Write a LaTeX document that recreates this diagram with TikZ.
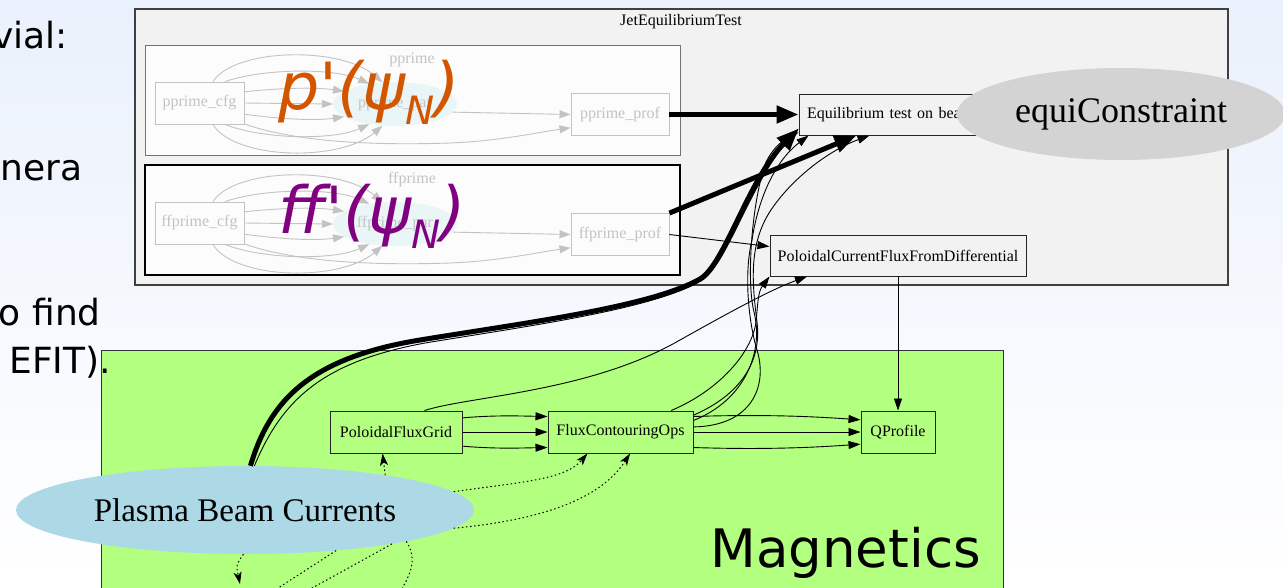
\documentclass[tikz,border=0pt]{standalone}
\usepackage{fontspec}
\setmainfont{Liberation Serif}
\newfontfamily\slidefont{DejaVu Sans}
\newfontfamily\ovlfont{DejaVu Sans}[Ligatures=TeXOff]
\usetikzlibrary{arrows.meta,shapes.geometric,calc}
\newcommand{\fsz}[1]{\fontsize{#1}{#1}\selectfont}
\definecolor{bgtop}{RGB}{234,241,252}
\definecolor{bgmid}{RGB}{246,249,254}
\definecolor{jetfill}{RGB}{242,242,242}
\definecolor{subfill}{RGB}{252,252,252}
\definecolor{ghost}{RGB}{195,195,195}
\definecolor{parfill}{RGB}{234,245,248}
\definecolor{magfill}{RGB}{179,255,128}
\definecolor{pbcfill}{RGB}{173,216,230}
\definecolor{eqcfill}{RGB}{211,211,211}
\definecolor{porange}{RGB}{212,85,0}
\definecolor{fpurple}{RGB}{128,0,128}
\tikzset{
  ghostbox/.style={rectangle, draw=ghost, fill=subfill, text=ghost, inner sep=0pt, line width=0.9pt, font=\fsz{16}},
  ghostlabel/.style={text=ghost, inner sep=0pt, font=\fsz{16}},
  parell/.style={ellipse, fill=parfill, text=ghost, inner sep=0pt, minimum width=124pt, minimum height=44pt, font=\fsz{16}},
  ghostedge/.style={draw=ghost, line width=0.9pt, -{Triangle[length=11pt,width=8pt]}},
  gvbox/.style={rectangle, draw=black!85, inner sep=0pt, line width=1pt, font=\fsz{16}},
  tedge/.style={draw=black, line width=0.9pt, -{Triangle[length=12pt,width=8pt]}},
  kedge/.style={draw=black, line width=5pt, -{Triangle[length=22pt,width=17pt]}},
  dedge/.style={draw=black, line width=1pt, dash pattern=on 1.5pt off 2.6pt, -{Stealth[length=12pt,width=8pt,inset=3pt]}},
  dline/.style={draw=black, line width=1pt, dash pattern=on 1.5pt off 2.6pt},
  slide/.style={anchor=base east, inner sep=0pt, font=\slidefont\fsz{36}},
  formula/.style={anchor=base west, inner sep=0pt, font=\ovlfont\itshape\fsz{65}}
}
\begin{document}
\begin{tikzpicture}[x=1pt,y=-1pt]
\useasboundingbox (0,0) rectangle (1283,587);
\clip (0,0) rectangle (1283,587);
\shade[top color=bgtop, middle color=bgmid, bottom color=white] (0,0) rectangle (1283,587);

% ---------- JetEquilibriumTest cluster
\draw[draw=black!75, fill=jetfill, line width=1.2pt] (135,9) rectangle (1228,285);
\node[inner sep=0pt, font=\fsz{16}] (jetlabel) at (681,22) {JetEquilibriumTest};
\draw[draw=black!55, fill=subfill, line width=1pt] (145,45) rectangle (680,155);
\draw[draw=black, fill=subfill, line width=1.3pt] (145,165) rectangle (680,275);

\foreach \pre/\lab/\dy in {p/pprime/0, f/ffprime/120} {
  \node[ghostlabel] (\pre-lab) at (412,60+\dy) {\lab};
  \node[ghostbox, minimum width=89pt, minimum height=42pt] (\pre-cfg) at (199.5,103+\dy) {\lab\_cfg};
  \node[parell] (\pre-par) at (395,104+\dy) {\lab\_par};
  \node[ghostbox, minimum width=98pt, minimum height=42pt] (\pre-prof) at (620,114.5+\dy) {\lab\_prof};
  \draw[ghostedge] (\pre-cfg.58) .. controls (235,{48+\dy}) and (340,{46+\dy}) .. (\pre-par.120);
  \draw[ghostedge] (\pre-cfg.40) .. controls (265,{68+\dy}) and (335,{68+\dy}) .. (\pre-par.142);
  \draw[ghostedge] (\pre-cfg.14) .. controls (280,{88+\dy}) and (315,{87+\dy}) .. (\pre-par.166);
  \draw[ghostedge] (\pre-cfg.east) -- (\pre-par.west);
  \draw[ghostedge] (\pre-cfg.-14) .. controls (280,{119+\dy}) and (315,{121+\dy}) .. (\pre-par.-166);
  \draw[ghostedge] (\pre-cfg.-40) .. controls (265,{140+\dy}) and (335,{140+\dy}) .. (\pre-par.-142);
  \draw[ghostedge] (\pre-cfg.-58) .. controls (235,{160+\dy}) and (340,{162+\dy}) .. (\pre-par.-120);
  \draw[ghostedge] (\pre-cfg.-25) .. controls (290,{140+\dy}) and (360,{146+\dy}) .. (450,{143+\dy}) .. controls (500,{141+\dy}) and (540,{132+\dy}) .. (\pre-prof.-165);
  \draw[ghostedge] (\pre-par.-8) -- (\pre-prof.west);
}

\node[gvbox, fill=jetfill, minimum width=201pt, minimum height=41pt, text width=185pt, inner xsep=8pt, align=left] (equil) at (899.5,114.5) {Equilibrium test on bea};
\node[gvbox, fill=jetfill, minimum width=256pt, minimum height=41pt] (pcf) at (898,255.5) {PoloidalCurrentFluxFromDifferential};

% ---------- Magnetics cluster
\draw[draw=black!80, fill=magfill, line width=1pt] (101,350) rectangle (1003,600);
\node[gvbox, fill=magfill, minimum width=132pt, minimum height=42pt] (pfg) at (396,432) {PoloidalFluxGrid};
\node[gvbox, fill=magfill, minimum width=145pt, minimum height=42pt] (fco) at (620.5,432) {FluxContouringOps};
\node[gvbox, fill=magfill, minimum width=74pt, minimum height=42pt] (qp) at (898,432) {QProfile};
\node[anchor=base east, inner sep=0pt, font=\slidefont\fsz{53}] (maglab) at (981,567) {Magnetics};

% ---------- edges
\draw[tedge] (pfg.12) .. controls (495,415) and (520,416) .. (fco.168);
\draw[tedge] (pfg.east) -- (fco.west);
\draw[tedge] (pfg.-12) .. controls (495,449) and (520,448) .. (fco.-168);
\draw[tedge] (fco.12) .. controls (770,414) and (820,417) .. (qp.162);
\draw[tedge] (fco.east) -- (qp.west);
\draw[tedge] (fco.-12) .. controls (770,450) and (820,447) .. (qp.-162);
\draw[tedge] (pcf.south) -- (qp.north);
\draw[tedge] (f-prof.east) -- (pcf.176);
\draw[tedge] (pfg.37) .. controls (470,396) and (590,392) .. (680,340) .. controls (730,312) and (770,290) .. (pcf.-167);
% weave from FluxContouringOps
\draw[tedge] (fco.23) .. controls (720,390) and (752,352) .. (756,322) .. controls (758,302) and (758,292) .. (pcf.south west);
\draw[tedge] (fco.13) .. controls (740,395) and (762,362) .. (757,322) .. controls (752,282) and (748,242) .. (773,207) .. controls (795,176) and (830,150) .. (equil.-145);
\draw[tedge] (fco.9) .. controls (745,400) and (764,352) .. (754,312) .. controls (746,280) and (752,200) .. (766,162) .. controls (772,150) and (780,142) .. (equil.-170);
\draw[tedge] (fco.4) .. controls (752,426) and (768,386) .. (757,350) .. controls (748,320) and (744,272) .. (752,240) .. controls (758,200) and (774,162) .. (equil.-167);

% plasma beam currents
\node[ellipse, fill=pbcfill, minimum width=458pt, minimum height=88pt, inner sep=0pt, font=\fsz{33}] (pbc) at (245,510) {Plasma Beam Currents};
\draw[tedge] (pbc.78) .. controls (282,400) and (322,362) .. (425,343) .. controls (535,325) and (652,309) .. (701,281) .. controls (727,266) and (750,182) .. (equil.-172);
\draw[kedge] (pbc.83) .. controls (270,400) and (310,358) .. (420,340) .. controls (530,322) and (650,307) .. (700,279) .. controls (725,264) and (748,180) .. (equil.-172);
\draw[kedge] (p-prof.east) -- (equil.west);
\draw[kedge] (f-prof.north east) -- (equil.-154);

\draw[dedge] (pbc.14) -- (pfg.-122);
\draw[dedge] (pbc.5) .. controls (520,482) and (565,480) .. (fco.-147);
\draw[dedge] (pbc.-5) .. controls (540,520) and (600,500) .. (fco.-66);
\coordinate (d4) at (240,584);
\coordinate (d5) at (272,592);
\coordinate (d6) at (305,592);
\coordinate (d7) at (400,592);
\draw[dedge] (pbc.-92) .. controls (236,565) .. (d4);
\draw[dline] (pbc.-24) -- (d5);
\draw[dline] (pbc.-13) -- (d6);
\draw[dline] (pbc.-11) .. controls (418,560) and (410,575) .. (d7);

% equiConstraint
\node[ellipse, fill=eqcfill, minimum width=328pt, minimum height=92pt, inner sep=0pt, font=\fsz{36}] (eqc) at (1121,114) {equiConstraint};

% overlay formulas
\node[formula, text=porange] (pform) at (278,109) {p'(ψ\raisebox{-15pt}{\fsz{39}N})};
\node[formula, text=fpurple] (fform) at (278,233) {ff'(ψ\raisebox{-15pt}{\fsz{39}N})};

% slide text
\node[slide] (s1) at (68,48) {vial:};
\node[slide] (s2) at (83,180) {nera};
\node[slide] (s3) at (101,325) {o find};
\node[slide] (s4) at (111,373) {EFIT).};
\end{tikzpicture}
\end{document}
